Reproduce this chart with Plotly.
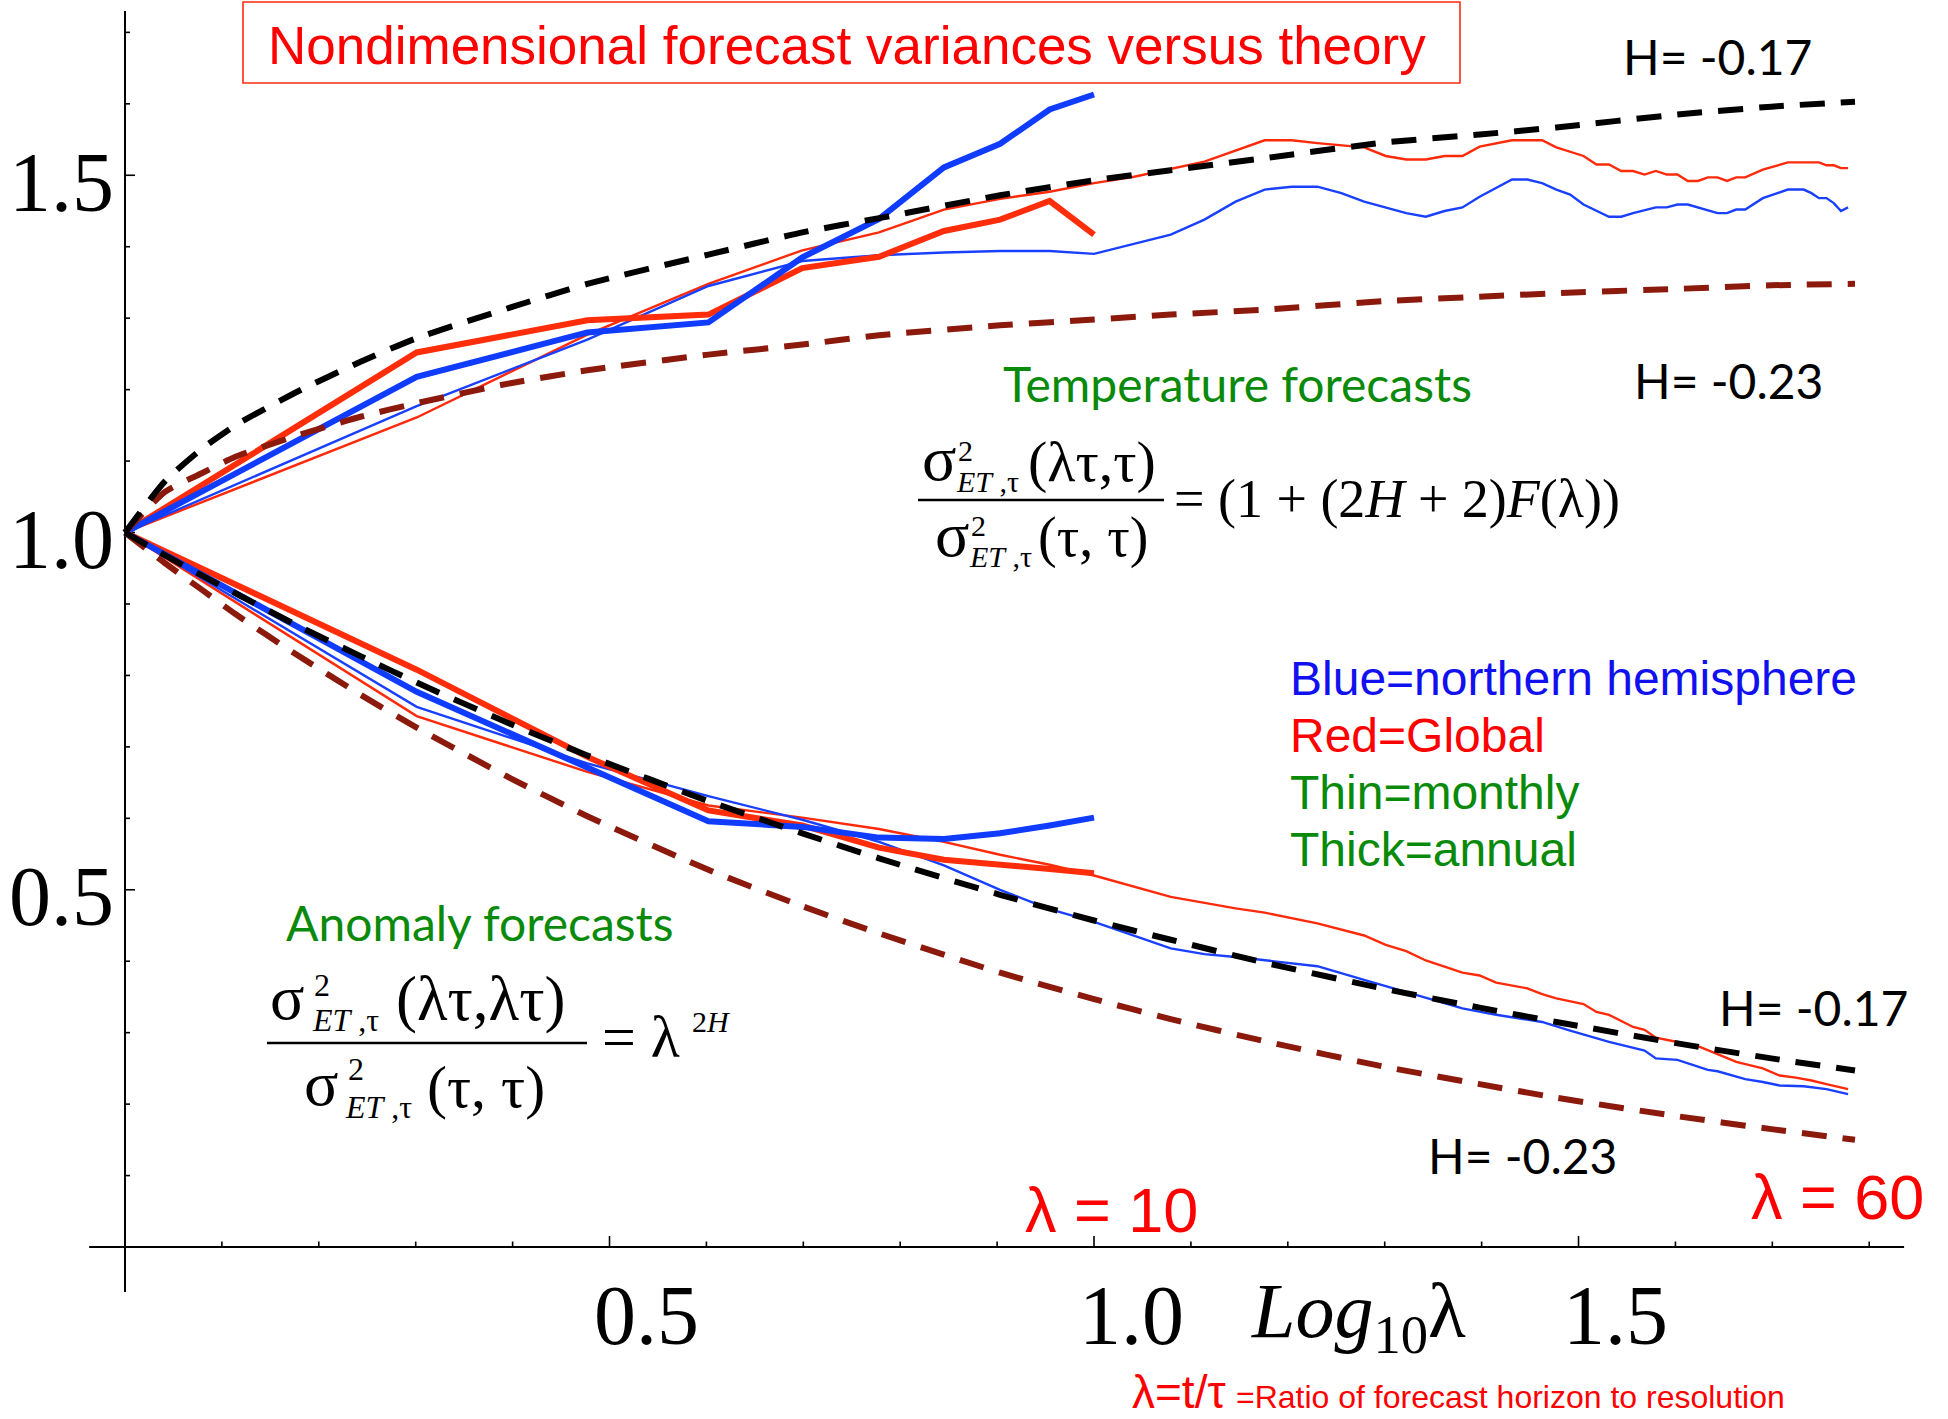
import plotly.graph_objects as go

# ---------------- data ----------------
# annual forecasts, lambda = 1..10
lam_annual = [1, 2, 3, 4, 5, 6, 7, 8, 9, 10]
temp_annual_global = [1.0, 1.252, 1.297, 1.305, 1.370, 1.386, 1.422, 1.438, 1.464, 1.417]
temp_annual_nh = [1.0, 1.218, 1.280, 1.294, 1.385, 1.439, 1.511, 1.544, 1.592, 1.613]
anom_annual_global = [1.0, 0.808, 0.686, 0.611, 0.590, 0.559, 0.542, 0.534, 0.529, 0.523]
anom_annual_nh = [1.0, 0.777, 0.671, 0.596, 0.588, 0.573, 0.571, 0.579, 0.590, 0.601]

# monthly forecasts
lam_temp_global_m = [1, 2, 3, 4, 5, 6, 7, 8, 9, 10, 11, 13, 15, 16, 17, 19, 20, 21, 22, 23, 24, 25,
                     27, 29, 30, 32, 33, 34, 35, 36, 37, 38, 39, 40, 41, 42, 43, 44, 45, 46, 47, 49,
                     52, 56, 57, 58, 59, 60]
temp_global_m = [1.0, 1.161, 1.277, 1.348, 1.395, 1.420, 1.452, 1.467, 1.477, 1.489, 1.498,
                 1.519, 1.549, 1.549, 1.545, 1.539, 1.527, 1.522, 1.522, 1.527, 1.527, 1.540,
                 1.549, 1.549, 1.539, 1.527, 1.515, 1.515, 1.506, 1.506, 1.501, 1.506, 1.501, 1.501,
                 1.492, 1.492, 1.497, 1.497, 1.492, 1.497, 1.497, 1.508, 1.518, 1.518, 1.514, 1.514,
                 1.510, 1.510]

lam_temp_nh_m = [1, 2, 3, 4, 5, 6, 7, 8, 9, 10, 12, 13, 14, 15, 16, 17, 18, 19, 21, 22, 23, 24, 25,
                 27, 28, 29, 30, 31, 32, 34, 35, 36, 38, 39, 40, 41, 44, 45, 46, 47, 49, 52, 54, 55,
                 56, 57, 58, 59, 60]
temp_nh_m = [1.0, 1.177, 1.270, 1.345, 1.380, 1.388, 1.392, 1.394, 1.394, 1.390, 1.417, 1.438,
             1.463, 1.480, 1.484, 1.484, 1.475, 1.463, 1.447, 1.442, 1.450, 1.455, 1.470, 1.494,
             1.494, 1.489, 1.480, 1.473, 1.459, 1.442, 1.442, 1.447, 1.455, 1.455, 1.459, 1.459,
             1.447, 1.447, 1.452, 1.452, 1.468, 1.480, 1.480, 1.475, 1.468, 1.468, 1.461, 1.450,
             1.455]

lam_anom_global_m = [1, 2, 3, 4, 5, 6, 7, 8, 9, 10, 12, 14, 15, 17, 19, 20, 21, 22, 24, 25, 26, 28,
                     29, 30, 32, 33, 34, 36, 37, 38, 40, 42, 44, 46, 49, 51, 53, 55, 57, 60]
anom_global_m = [1.0, 0.743, 0.665, 0.618, 0.601, 0.585, 0.567, 0.549, 0.535, 0.520, 0.490, 0.474,
                 0.468, 0.453, 0.436, 0.423, 0.414, 0.401, 0.384, 0.380, 0.370, 0.362, 0.354, 0.348,
                 0.340, 0.329, 0.325, 0.308, 0.304, 0.293, 0.287, 0.281, 0.270, 0.259, 0.250, 0.240,
                 0.237, 0.233, 0.228, 0.221]

lam_anom_nh_m = [1, 2, 3, 4, 5, 6, 7, 8, 9, 10, 12, 13, 14, 17, 19, 21, 24, 26, 29, 31, 34, 37, 38,
                 40, 43, 44, 47, 49, 51, 54, 57, 60]
anom_nh_m = [1.0, 0.756, 0.677, 0.631, 0.598, 0.567, 0.534, 0.500, 0.473, 0.455, 0.418, 0.410,
             0.406, 0.393, 0.374, 0.357, 0.334, 0.325, 0.315, 0.303, 0.287, 0.275, 0.264, 0.262,
             0.248, 0.246, 0.235, 0.231, 0.226, 0.225, 0.221, 0.214]

# theoretical curves for H = -0.17 and H = -0.23
lam_theory = [1, 1.1, 1.2, 1.3, 1.5, 1.75, 2, 2.5, 3, 4, 5, 6, 8, 10, 12, 15, 20, 25, 30, 40, 50, 61]
temp_theory_h017 = [1.0, 1.072, 1.117, 1.150, 1.196, 1.239, 1.272, 1.315, 1.348, 1.389, 1.420,
                    1.440, 1.472, 1.493, 1.507, 1.524, 1.546, 1.557, 1.567, 1.585, 1.596, 1.603]
temp_theory_h023 = [1.0, 1.057, 1.083, 1.106, 1.135, 1.162, 1.181, 1.209, 1.227, 1.249, 1.263,
                    1.276, 1.290, 1.298, 1.305, 1.312, 1.324, 1.330, 1.335, 1.341, 1.346, 1.348]
anom_theory_h017 = [1.0, 0.968, 0.940, 0.915, 0.871, 0.827, 0.790, 0.732, 0.688, 0.624, 0.579,
                    0.544, 0.493, 0.457, 0.430, 0.398, 0.361, 0.335, 0.315, 0.285, 0.264, 0.247]
anom_theory_h023 = [1.0, 0.957, 0.920, 0.886, 0.830, 0.773, 0.727, 0.656, 0.603, 0.528, 0.477,
                    0.439, 0.384, 0.347, 0.319, 0.288, 0.252, 0.228, 0.209, 0.183, 0.165, 0.150]

x_tick_values = [round(0.1 * i, 1) for i in range(1, 19)]
y_tick_values = [round(0.1 * i, 1) for i in range(1, 18)]
x_tick_labels = {0.5: "0.5", 1.0: "1.0", 1.5: "1.5"}
y_tick_labels = {0.5: "0.5", 1.0: "1.0", 1.5: "1.5"}

# ---------------- styling ----------------
W, H = 1948, 1419
XR = [-0.129, 1.8813]          # log10(lambda) range
YR = [-0.2407, 1.7453]
KX = (XR[1] - XR[0]) / W       # log10 units per pixel
KY = (YR[1] - YR[0]) / H       # y units per pixel

ARIAL = "Liberation Sans, Arial, sans-serif"
TIMES = "Liberation Serif, Times New Roman, serif"
CALIB = "Lato, Carlito, sans-serif"

RED_THICK = "#ff2d0a"
RED_THIN = "#ff2a0a"
BLUE_THICK = "#0f3cff"
BLUE_THIN = "#1a40ff"
BROWN = "#8b1a0c"

fig = go.Figure()


def line(x, y, color, width, dash="solid"):
    fig.add_trace(go.Scatter(x=x, y=y, mode="lines", hoverinfo="skip", showlegend=False,
                             line=dict(color=color, width=width, dash=dash)))


# axes drawn through the origin
line([10 ** -0.037, 10 ** 1.836], [0, 0], "black", 2)
line([1, 1], [-0.063, 1.730], "black", 2)

tx, ty = [], []
for v in x_tick_values:
    L = 11 if v in x_tick_labels else 5.5
    tx += [10 ** v, 10 ** v, None]
    ty += [0, L * KY, None]
for v in y_tick_values:
    L = 10 if v in y_tick_labels else 5
    tx += [1, 10 ** (L * KX), None]
    ty += [v, v, None]
line(tx, ty, "black", 1.6)

# measured forecast variances
line(lam_temp_global_m, temp_global_m, RED_THIN, 2.4)
line(lam_temp_nh_m, temp_nh_m, BLUE_THIN, 2.4)
line(lam_anom_global_m, anom_global_m, RED_THIN, 2.4)
line(lam_anom_nh_m, anom_nh_m, BLUE_THIN, 2.4)
line(lam_annual, temp_annual_global, RED_THICK, 6)
line(lam_annual, temp_annual_nh, BLUE_THICK, 6)
line(lam_annual, anom_annual_global, RED_THICK, 6)
line(lam_annual, anom_annual_nh, BLUE_THICK, 6)

# theory
DASH = "25px,16px"
for yv, col in [(temp_theory_h023, BROWN), (anom_theory_h023, BROWN),
                (temp_theory_h017, "black"), (anom_theory_h017, "black")]:
    fig.add_trace(go.Scatter(x=lam_theory, y=yv, mode="lines", hoverinfo="skip", showlegend=False,
                             line=dict(color=col, width=6, dash=DASH, shape="spline", smoothing=0.6)))

ann = []
shapes = []


def txt(text, x, y, size, color="black", family=ARIAL, xanchor="center", yanchor="middle"):
    ann.append(dict(text=text, x=x / W, y=1 - y / H, xref="paper", yref="paper", showarrow=False,
                    font=dict(size=size, color=color, family=family),
                    xanchor=xanchor, yanchor=yanchor))


def hbar(x0, x1, y, width=2.5, color="black"):
    shapes.append(dict(type="line", xref="paper", yref="paper", x0=x0 / W, x1=x1 / W,
                       y0=1 - y / H, y1=1 - y / H, line=dict(color=color, width=width)))


# tick labels
for v, t in x_tick_labels.items():
    ann.append(dict(text=t, x=v, y=0, xref="x", yref="y", showarrow=False, xshift=37, yshift=-68,
                    font=dict(size=84, family=TIMES, color="black")))
for v, t in y_tick_labels.items():
    ann.append(dict(text=t, x=0, y=v, xref="x", yref="y", showarrow=False, xanchor="right",
                    xshift=-9, yshift=-7, font=dict(size=84, family=TIMES, color="black")))

# axis title
txt("<i>Log</i><sub>10</sub>λ", 1249, 1316, 78, family=TIMES, xanchor="left")
txt("λ=t/τ", 1130, 1392, 46, color="#ff0000", xanchor="left")
txt("=Ratio of forecast horizon to resolution", 1234, 1397, 32, color="#ff0000", xanchor="left")

# title box
shapes.append(dict(type="rect", xref="paper", yref="paper", x0=243 / W, x1=1460 / W,
                   y0=1 - 83 / H, y1=1 - 2 / H, line=dict(color="#ff2a10", width=1.6)))
txt("Nondimensional forecast variances versus theory", 847, 46, 53, color="#ff0000")

# H labels
txt("H= -0.17", 1717, 56, 48, family=CALIB)
txt("H= -0.23", 1728, 381, 48, family=CALIB)
txt("H= -0.17", 1813, 1007, 48, family=CALIB)
txt("H= -0.23", 1522, 1155, 48, family=CALIB)

# lambda markers
txt("λ = 10", 1111, 1210, 63, color="#ff0000")
txt("λ = 60", 1837, 1197, 63, color="#ff0000")

# key
GREEN = "#0a8a0a"
txt("Blue=northern hemisphere", 1288, 679, 48, color="#1010f0", xanchor="left")
txt("Red=Global", 1288, 735, 48, color="#ff0000", xanchor="left")
txt("Thin=monthly", 1288, 792, 48, color=GREEN, xanchor="left")
txt("Thick=annual", 1288, 849, 48, color=GREEN, xanchor="left")

# section headings
txt("Temperature forecasts", 1237, 384, 48, color=GREEN, family=CALIB)
txt("Anomaly forecasts", 480, 922, 48, color=GREEN, family=CALIB)

# temperature formula
txt("σ", 920, 458, 64, family=TIMES, xanchor="left")
txt("2", 956, 450, 30, family=TIMES, xanchor="left")
txt("<i>ET</i> ,τ", 954, 481, 30, family=TIMES, xanchor="left")
txt("(λτ,τ)", 1026, 461, 58, family=TIMES, xanchor="left")
hbar(918, 1164, 500)
txt("σ", 933, 534, 64, family=TIMES, xanchor="left")
txt("2", 969, 525, 30, family=TIMES, xanchor="left")
txt("<i>ET</i> ,τ", 967, 556, 30, family=TIMES, xanchor="left")
txt("(τ, τ)", 1036, 538, 56, family=TIMES, xanchor="left")
txt("= (1 + (2<i>H</i> + 2)<i>F</i>(λ))", 1172, 499, 54, family=TIMES, xanchor="left")

# anomaly formula
txt("σ", 268, 997, 64, family=TIMES, xanchor="left")
txt("2", 312, 985, 32, family=TIMES, xanchor="left")
txt("<i>ET</i> ,τ", 310, 1020, 32, family=TIMES, xanchor="left")
txt("(λτ,λτ)", 394, 999, 63, family=TIMES, xanchor="left")
hbar(267, 587, 1043)
txt("σ", 302, 1083, 64, family=TIMES, xanchor="left")
txt("2", 346, 1069, 32, family=TIMES, xanchor="left")
txt("<i>ET</i> ,τ", 343, 1107, 32, family=TIMES, xanchor="left")
txt("(τ, τ)", 425, 1087, 60, family=TIMES, xanchor="left")
txt("= λ", 600, 1037, 60, family=TIMES, xanchor="left")
txt("2<i>H</i>", 690, 1021, 30, family=TIMES, xanchor="left")

fig.update_layout(
    width=W, height=H,
    margin=dict(l=0, r=0, t=0, b=0),
    paper_bgcolor="white", plot_bgcolor="white",
    showlegend=False,
    xaxis=dict(type="log", range=XR, visible=False, fixedrange=True),
    yaxis=dict(range=YR, visible=False, fixedrange=True),
    annotations=ann, shapes=shapes,
)

fig.write_html("out.html")
